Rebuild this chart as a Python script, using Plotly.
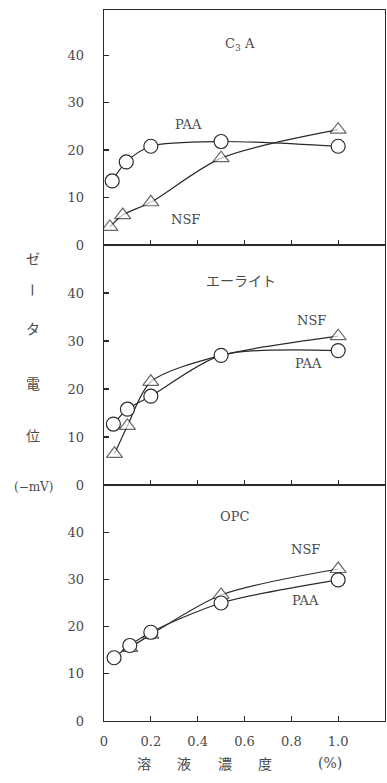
import plotly.graph_objects as go
from plotly.subplots import make_subplots

# ---------------- data ----------------
panel_names = ["C<sub>3</sub> A", "エーライト", "OPC"]

c3a_paa_x = [0.035, 0.095, 0.2, 0.5, 1.0]
c3a_paa_y = [13.5, 17.5, 20.8, 21.8, 20.8]
c3a_nsf_x = [0.025, 0.08, 0.2, 0.5, 1.0]
c3a_nsf_y = [3.8, 6.3, 9.0, 18.3, 24.3]

alite_paa_x = [0.04, 0.1, 0.2, 0.5, 1.0]
alite_paa_y = [12.7, 15.8, 18.5, 27.0, 28.0]
alite_nsf_x = [0.045, 0.1, 0.2, 0.5, 1.0]
alite_nsf_y = [6.5, 12.3, 21.5, 27.0, 31.0]

opc_paa_x = [0.043, 0.11, 0.2, 0.5, 1.0]
opc_paa_y = [13.4, 16.0, 18.8, 25.0, 29.9]
opc_nsf_x = [0.11, 0.2, 0.5, 1.0]
opc_nsf_y = [15.5, 18.3, 26.7, 32.2]

x_tickvals = [0, 0.2, 0.4, 0.6, 0.8, 1.0]
x_ticktext = ["0", "0.2", "0.4", "0.6", "0.8", "1.0"]
y_tickvals = [0, 10, 20, 30, 40]
y_ticktext = ["0", "10", "20", "30", "40"]

y_title_chars = ["ゼ", "ー", "タ", "電", "位", "(−mV)"]
x_title_chars = ["溶", "液", "濃", "度", "(%)"]

# ---------------- style ----------------
INK = "#2a2a2a"
TXT = "#4a4a4a"
SERIF = "DejaVu Serif, Liberation Serif, serif"
CJK = "Noto Sans CJK JP, sans-serif"

W, H = 387, 783
L, R, T, B = 104, 2, 10, 62
PW, PH = W - L - R, H - T - B


def px(xp):
    return (xp - L) / PW


def py(yp):
    return (H - B - yp) / PH


fig = make_subplots(rows=3, cols=1, shared_xaxes=False, vertical_spacing=0)

panels = [
    (c3a_nsf_x, c3a_nsf_y, c3a_paa_x, c3a_paa_y, [14] * 5),
    (alite_nsf_x, alite_nsf_y, alite_paa_x, alite_paa_y, [14, 14, 14, 0, 14]),
    (opc_nsf_x, opc_nsf_y, opc_paa_x, opc_paa_y, [14] * 4),
]

for i, (nx, ny, cx, cy, nsizes) in enumerate(panels, start=1):
    fig.add_trace(go.Scatter(
        x=nx, y=ny, mode="lines+markers", name="NSF",
        line=dict(color=INK, width=1.2, shape="spline", smoothing=0.8),
        marker=dict(symbol="triangle-up", size=nsizes, color="white",
                    line=dict(color=INK, width=1.2)),
        showlegend=False), row=i, col=1)
    fig.add_trace(go.Scatter(
        x=cx, y=cy, mode="lines+markers", name="PAA",
        line=dict(color=INK, width=1.2, shape="spline", smoothing=0.8),
        marker=dict(symbol="circle", size=14, color="white",
                    line=dict(color=INK, width=1.2)),
        showlegend=False), row=i, col=1)

# panel boundaries in pixels
bounds = [(10, 245), (245, 485), (485, 721)]
for i, (top, bot) in enumerate(bounds, start=1):
    xa = "xaxis" if i == 1 else f"xaxis{i}"
    ya = "yaxis" if i == 1 else f"yaxis{i}"
    fig.layout[ya].update(
        domain=[py(bot), py(top)], range=[0, 50],
        tickvals=y_tickvals, ticktext=y_ticktext, ticks="inside", ticklen=5,
        tickcolor=INK, tickwidth=1.2, showline=True, linecolor=INK, linewidth=1.3,
        mirror=True, showgrid=False, zeroline=False, ticklabelstandoff=16,
        tickfont=dict(family=SERIF, size=13, color=TXT), fixedrange=True)
    fig.layout[xa].update(
        range=[0, 1.2], tickvals=x_tickvals, ticktext=x_ticktext,
        ticks="inside", ticklen=5, tickcolor=INK, tickwidth=1.2,
        showline=True, linecolor=INK, linewidth=1.3, mirror=True,
        showgrid=False, zeroline=False, showticklabels=(i == 3),
        tickfont=dict(family=SERIF, size=13, color=TXT), fixedrange=True,
        ticklabelstandoff=8)

fig.layout.yaxis.range = [0, 49.5]

ann = []


def add(text, xp, yp, size=13, family=SERIF, angle=0):
    ann.append(dict(text=text, x=px(xp), y=py(yp), xref="paper", yref="paper",
                    showarrow=False, xanchor="center", yanchor="middle",
                    textangle=angle,
                    font=dict(family=family, size=size, color=TXT)))


# panel labels
add(panel_names[0], 240, 44, size=13)
add("PAA", 188, 125)
add("NSF", 185, 220)
add(panel_names[1], 241, 280, size=14, family=CJK)
add("NSF", 311, 320)
add("PAA", 308, 363)
add(panel_names[2], 234, 516)
add("NSF", 305, 549)
add("PAA", 305, 600)

# y title (vertical)
y_pos = [258, 290, 328, 383, 435, 487]
for ch, yp in zip(y_title_chars, y_pos):
    if ch == "ー":
        add(ch, 33, yp, size=14, family=CJK, angle=90)
    elif ch.startswith("("):
        add(ch, 33, yp, size=12, family=SERIF)
    else:
        add(ch, 33, yp, size=14, family=CJK)

# x title
x_pos = [144, 184, 225, 265, 330]
for ch, xp in zip(x_title_chars, x_pos):
    add(ch, xp, 763, size=14, family=(SERIF if ch == "(%)" else CJK))

fig.update_layout(
    width=W, height=H, margin=dict(l=L, r=R, t=T, b=B),
    paper_bgcolor="white", plot_bgcolor="white",
    annotations=ann, showlegend=False)

fig.write_html(
    "out.html",
    config={"displayModeBar": False, "staticPlot": True},
    post_script="document.body.style.margin='0';document.body.style.overflow='hidden';",
)
